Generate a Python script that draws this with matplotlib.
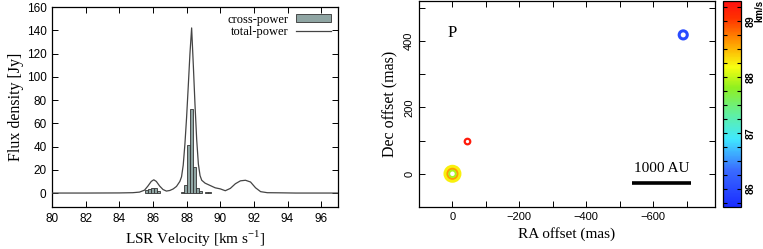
import matplotlib
matplotlib.use("Agg")
import matplotlib.pyplot as plt
import numpy as np
from matplotlib.colors import LinearSegmentedColormap, Normalize
from matplotlib.ticker import MultipleLocator

# ---------------- data ----------------
# total-power spectrum (km/s, Jy)
tp_vel = [80.0, 82.0, 84.0, 84.8, 85.2, 85.5, 85.7, 85.9, 86.05, 86.2, 86.4, 86.6,
          86.8, 87.0, 87.2, 87.4, 87.6, 87.7, 87.8, 87.9, 88.0, 88.1, 88.2, 88.3,
          88.4, 88.5, 88.6, 88.7, 88.8, 88.9, 89.1, 89.4, 89.7, 90.0, 90.3, 90.6,
          90.9, 91.2, 91.5, 91.8, 92.1, 92.4, 92.8, 93.5, 94.5, 97.0]
tp_flux = [0.0, 0.0, 0.1, 0.3, 0.8, 2.5, 6.0, 10.0, 11.4, 10.0, 6.0, 3.0,
           1.7, 2.2, 3.5, 5.7, 10.0, 14.0, 24.0, 42.0, 65.0, 92.0, 120.0, 142.0,
           110.0, 76.0, 46.0, 25.0, 15.0, 11.0, 8.5, 6.5, 4.5, 3.6, 2.0, 4.0,
           8.0, 10.5, 11.0, 9.5, 4.5, 1.2, 0.3, 0.2, 0.0, 0.0]

# cross-power spectrum (channel centres, Jy)
cp_vel = [85.64, 85.82, 85.99, 86.16, 86.33,
          87.78, 87.95, 88.13, 88.31, 88.49, 88.66, 88.83,
          89.18, 89.36]
cp_flux = [2.3, 3.7, 4.6, 4.3, 1.4,
           1.0, 7.0, 41.0, 72.0, 22.0, 4.5, 2.0,
           1.0, 1.0]
cp_width = 0.176

# maser spots (RA offset mas, Dec offset mas, velocity km/s, marker area)
spot_ra = [0.0, 0.0, 0.0, -45.0, -690.0]
spot_dec = [0.0, 0.0, 0.0, 97.0, 418.0]
spot_vel = [88.25, 88.6, 87.9, 89.25, 86.0]
spot_size = [95, 50, 22, 16, 34]
spot_lw = [3.2, 1.6, 1.4, 1.6, 2.2]

vel_min, vel_max = 85.67, 89.36
cbar_ticks = [86, 87, 88, 89]

# ---------------- style ----------------
serif = ["Liberation Serif", "DejaVu Serif"]
sans = ["Liberation Sans", "DejaVu Sans"]
plt.rcParams["font.family"] = sans
plt.rcParams["xtick.direction"] = "in"
plt.rcParams["ytick.direction"] = "in"

cmap = LinearSegmentedColormap.from_list(
    "maser",
    [(0.0, "#1a2cff"), (0.18, "#3a6cff"), (0.33, "#40e8ff"), (0.45, "#60f0a0"),
     (0.58, "#90f020"), (0.68, "#f8ff10"), (0.80, "#ff9a00"), (0.92, "#ff3000"),
     (1.0, "#ff1010")])
norm = Normalize(vel_min, vel_max)

fig = plt.figure(figsize=(7.63, 2.49), dpi=100)

# ---------------- left panel: spectrum ----------------
ax1 = fig.add_axes([52 / 763, 42 / 249, 286 / 763, 200 / 249])
bars = ax1.bar(cp_vel, cp_flux, width=cp_width, color="#8fa5a3", edgecolor="#333333",
               linewidth=0.6, label="cross-power", zorder=2)
line, = ax1.plot(tp_vel, tp_flux, color="#444444", lw=0.9, label="total-power", zorder=3)
ax1.set_xlim(80, 97)
ax1.set_ylim(-12, 160)
ax1.xaxis.set_major_locator(MultipleLocator(2))
ax1.yaxis.set_major_locator(MultipleLocator(20))
ax1.tick_params(top=True, right=True, labelsize=8.5, length=4, width=0.7, pad=4)
for s in ax1.spines.values():
    s.set_linewidth(0.9)
ax1.set_xlabel("LSR Velocity [km s$^{\\mathregular{-1}}$]", family=serif, fontsize=11, labelpad=3)
ax1.set_ylabel("Flux density [Jy]", family=serif, fontsize=11.5, labelpad=2)
leg = ax1.legend([bars, line], ["cross-power", "total-power"],
                 loc="upper right", frameon=False, markerfirst=False,
                 prop={"family": serif, "size": 9}, handlelength=2.8,
                 handleheight=0.6, labelspacing=0.05, borderaxespad=0.15,
                 handletextpad=0.6)

# ---------------- right panel: spot map ----------------
ax2 = fig.add_axes([419 / 763, 42 / 249, 296 / 763, 206 / 249])
ax2.scatter(spot_ra, spot_dec, s=spot_size, facecolors="none",
            edgecolors=cmap(norm(np.array(spot_vel))), linewidths=spot_lw, zorder=3)
ax2.set_xlim(100, -785)
ax2.set_ylim(-100, 520)
ax2.xaxis.set_major_locator(MultipleLocator(200))
ax2.xaxis.set_minor_locator(MultipleLocator(100))
ax2.yaxis.set_major_locator(MultipleLocator(200))
ax2.yaxis.set_minor_locator(MultipleLocator(100))
ax2.tick_params(which="both", top=True, right=True, labelsize=8, width=0.7)
ax2.tick_params(which="major", length=4)
ax2.tick_params(which="minor", length=4)
ax2.tick_params(axis="y", labelrotation=90)
for lab in ax2.get_yticklabels():
    lab.set_va("center")
ax2.set_xticks([0, -200, -400, -600])
ax2.set_xticklabels(["0", "\u2212200", "\u2212400", "\u2212600"])
for s in ax2.spines.values():
    s.set_linewidth(0.9)
ax2.set_xlabel("RA offset (mas)", family=serif, fontsize=11, labelpad=4)
ax2.set_ylabel("Dec offset (mas)", family=serif, fontsize=11.5, labelpad=4)
ax2.text(0, 424, "P", family=serif, fontsize=12, ha="center", va="center")
ax2.plot([-537, -714], [-28, -28], color="black", lw=2.6, solid_capstyle="butt")
ax2.text(-625, -4, "1000 AU", family=serif, fontsize=11, ha="center", va="bottom")

# ---------------- colorbar ----------------
cax = fig.add_axes([723 / 763, 42 / 249, 18 / 763, 206 / 249])
sm = matplotlib.cm.ScalarMappable(norm=norm, cmap=cmap)
cb = fig.colorbar(sm, cax=cax)
cb.set_ticks(cbar_ticks)
cb.ax.yaxis.set_minor_locator(MultipleLocator(0.25))
cb.outline.set_linewidth(0.9)
cb.ax.tick_params(which="both", direction="in", left=True, right=True,
                  length=3, width=0.8, labelsize=7.5, pad=3)
for lab in cb.ax.get_yticklabels():
    lab.set_rotation(90)
    lab.set_va("center")
    lab.set_fontweight("bold")
fig.text(759 / 763, 1.0, "km/s", rotation=90, ha="center", va="top",
         fontsize=7, fontweight="bold")

fig.savefig("out.png", dpi=100)
